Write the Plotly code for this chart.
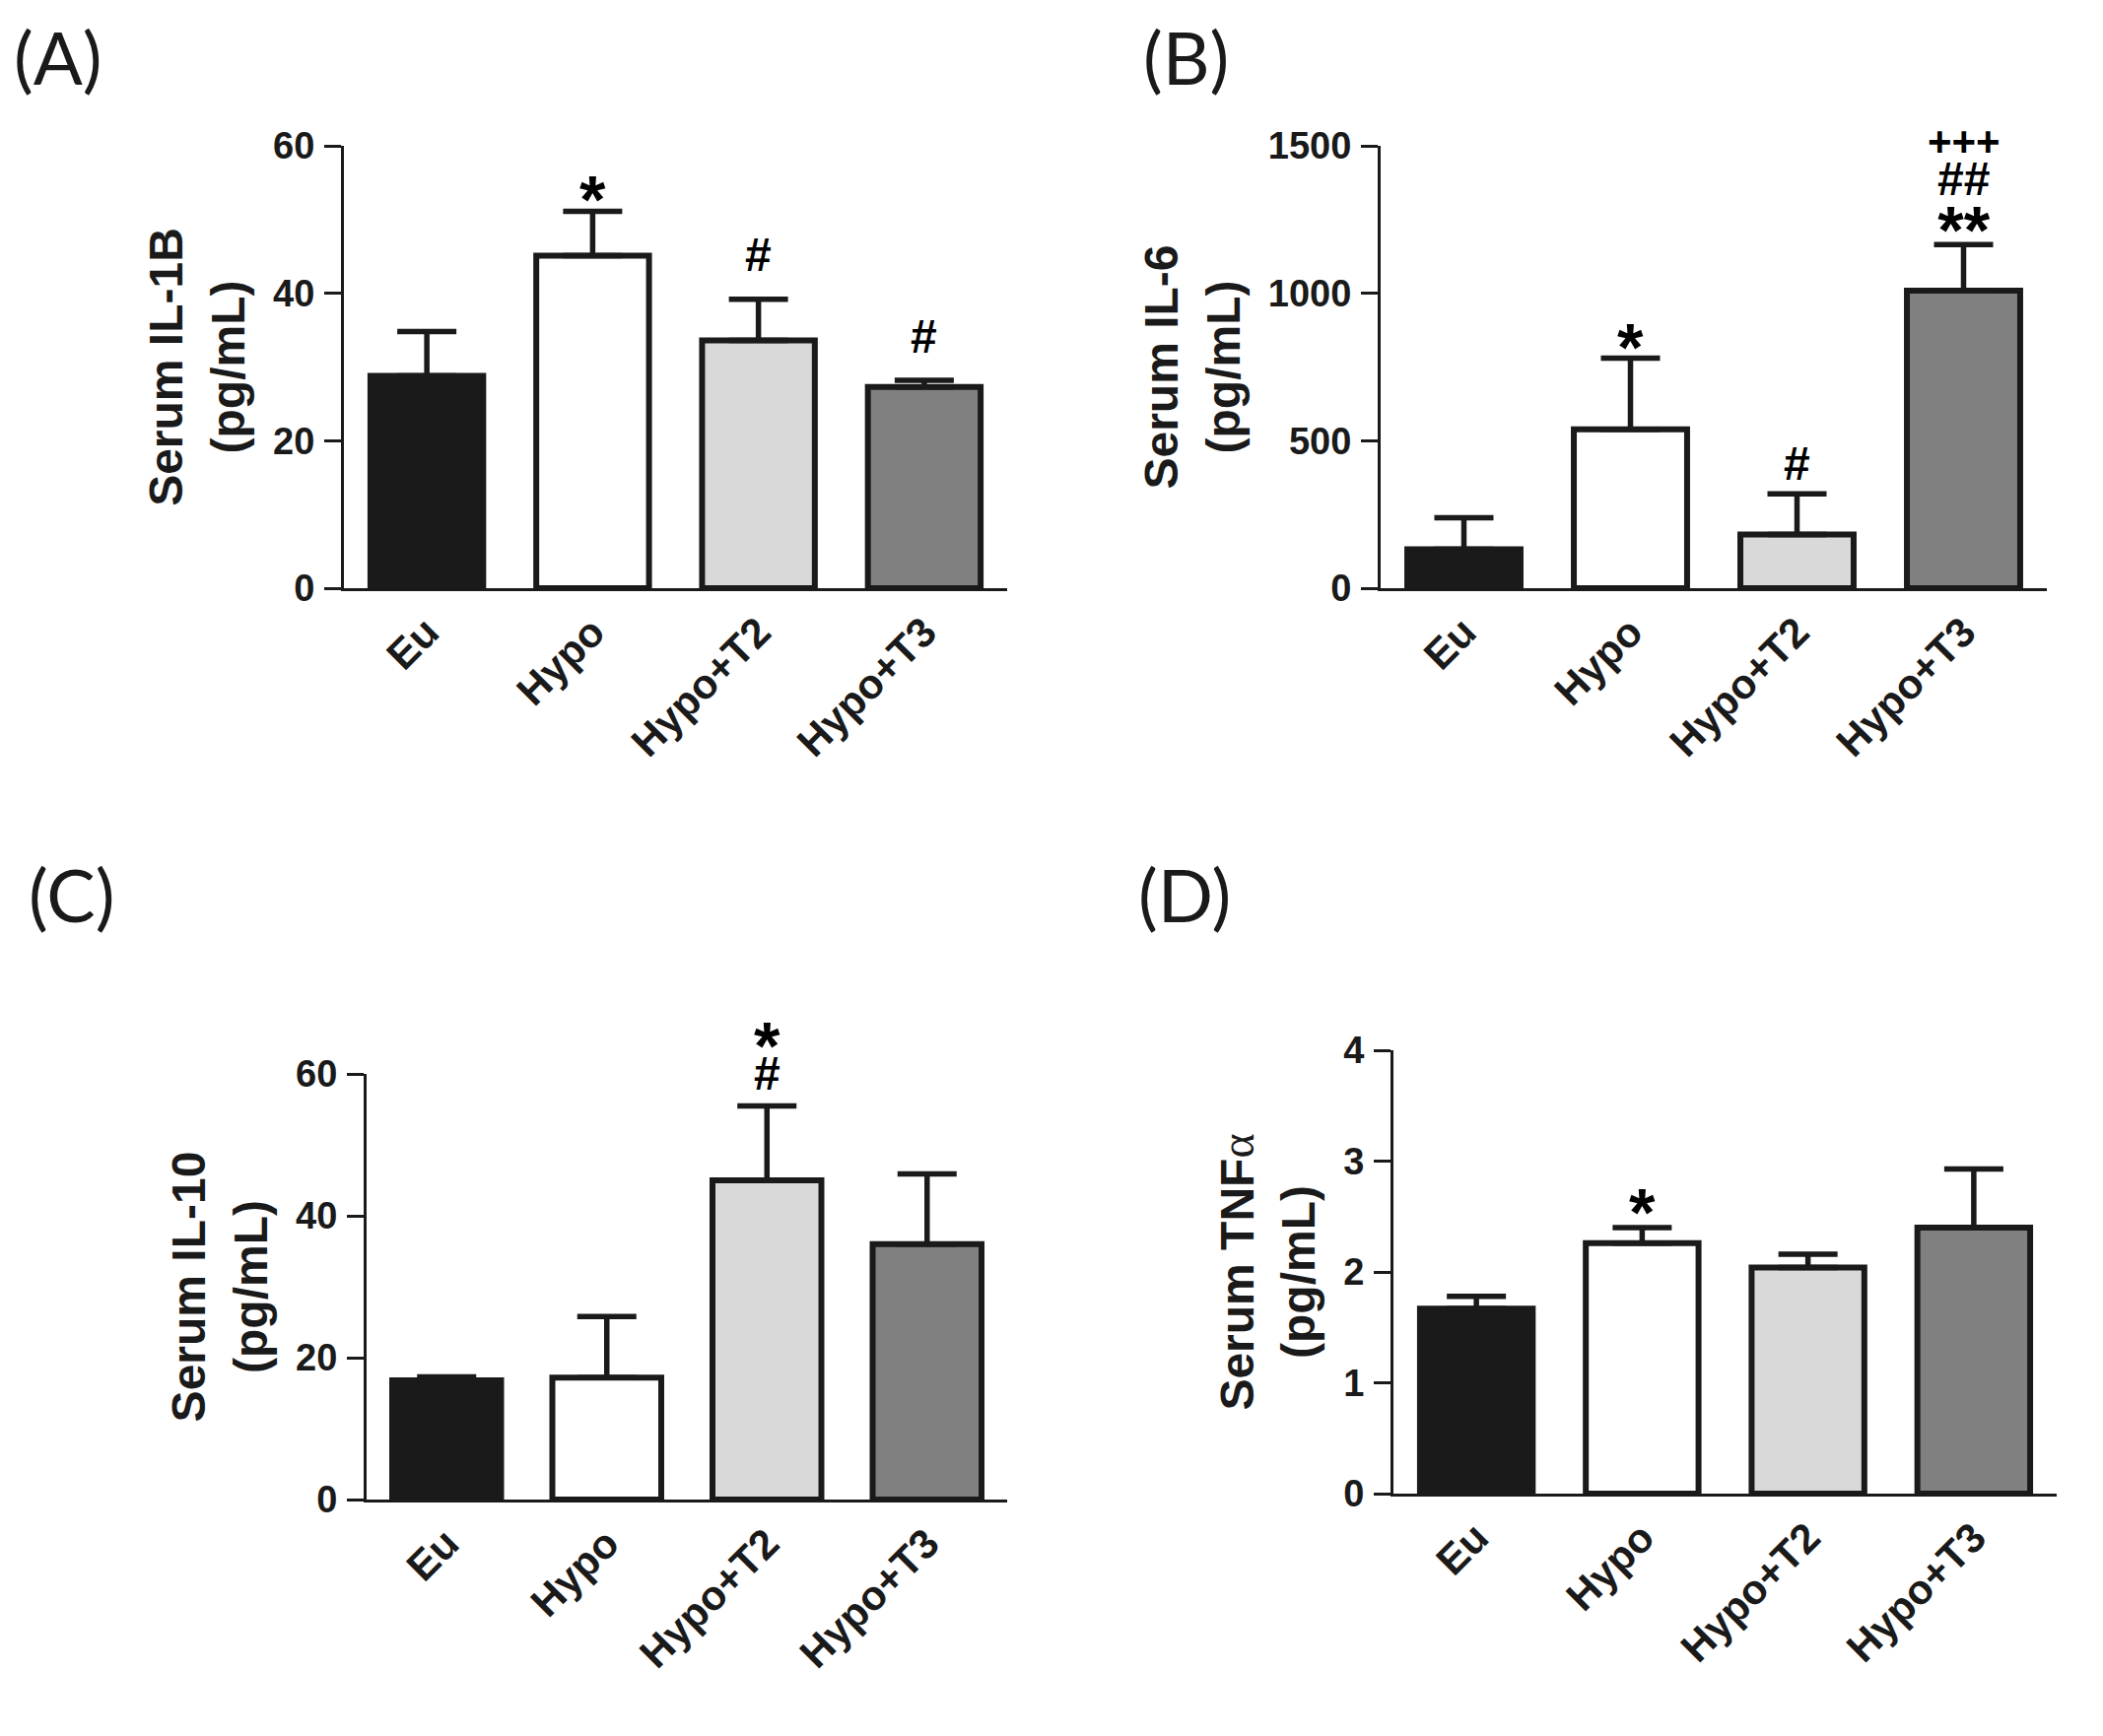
import plotly.graph_objects as go
from plotly.subplots import make_subplots

groups = ["Eu", "Hypo", "Hypo+T2", "Hypo+T3"]
bar_colors = ["#1a1a1a", "#ffffff", "#d9d9d9", "#808080"]

# mean and upper error (SEM)
il1b = [28.8, 45.1, 33.6, 27.3]
il1b_err = [6.0, 6.0, 5.6, 0.9]
il6 = [132, 539, 182, 1009]
il6_err = [107, 241, 138, 156]
il10 = [16.8, 17.2, 45.0, 36.0]
il10_err = [0.5, 8.6, 10.5, 9.9]
tnfa = [1.67, 2.26, 2.04, 2.40]
tnfa_err = [0.11, 0.14, 0.12, 0.53]

# significance marks: (panel, group index, lines from bottom to top, gap above cap, line size)
# empty lines only space the symbols apart
marks = [
    (1, 1, ["*"], 8, None),
    (1, 2, ["#"], 26, None),
    (1, 3, ["#"], 25, None),
    (2, 1, ["*"], 7, None),
    (2, 2, ["#"], 11, None),
    (2, 3, ["**", "", "", "##", "", "+++"], 10, 15.3),
    (3, 2, ["#", "*"], 13, 16.5),
    (4, 1, ["*"], 11, None),
]

panels = [
    ("(A)", il1b, il1b_err, "Serum IL-1B<br>(pg/mL)", [0, 60], 20),
    ("(B)", il6, il6_err, "Serum IL-6<br>(pg/mL)", [0, 1500], 500),
    ("(C)", il10, il10_err, "Serum IL-10<br>(pg/mL)", [0, 60], 20),
    ("(D)", tnfa, tnfa_err,
     "Serum TNF<span style='font-family:Liberation Serif;font-weight:normal'>α</span><br>(pg/mL)",
     [0, 4], 1),
]

W, H = 2134, 1762
OFF = 8  # page margin of the browser
# plot areas in pixels: x0, x1, ytop, ybottom
boxes = [
    (349, 1022, 148, 597),
    (1401, 2077, 148, 597),
    (372, 1022, 1090, 1522),
    (1414, 2087, 1066, 1516),
]
label_pos = [(59, 57), (1203, 57), (72, 907), (1202, 907)]

ink = "#1a1a1a"
sans = "Liberation Sans, Arial, sans-serif"
ytick_font = dict(family=sans, size=38, color=ink, weight="bold")
xtick_font = dict(family=sans, size=42, color=ink, weight="bold")

fig = make_subplots(rows=2, cols=2)

for i, (lab, vals, errs, ytitle, yrange, dtick) in enumerate(panels):
    r, c = i // 2 + 1, i % 2 + 1
    fig.add_trace(
        go.Bar(
            x=groups,
            y=vals,
            marker=dict(color=bar_colors, line=dict(color=ink, width=6)),
            error_y=dict(type="data", symmetric=False, array=errs,
                         arrayminus=[0] * len(errs), color=ink,
                         thickness=5.5, width=30),
            width=0.68,
            showlegend=False,
        ), row=r, col=c,
    )
    x0, x1, yt, yb = [v - OFF for v in boxes[i]]
    fig.update_xaxes(
        domain=[x0 / W, x1 / W], range=[-0.5, 3.5], automargin=False,
        showline=True, linewidth=3, linecolor=ink, ticks="",
        tickangle=-45, tickfont=xtick_font, ticklabelstandoff=0,
        showgrid=False, zeroline=False, row=r, col=c,
    )
    fig.update_yaxes(
        domain=[1 - yb / H, 1 - yt / H], range=yrange, dtick=dtick, automargin=False,
        showline=True, linewidth=3, linecolor=ink,
        ticks="outside", ticklen=17, tickwidth=3, tickcolor=ink,
        tickfont=ytick_font, ticklabelstandoff=2,
        title=dict(text=ytitle, font=dict(family=sans, size=48, color=ink, weight="bold"),
                   standoff=14),
        showgrid=False, zeroline=False, row=r, col=c,
    )
    fig.add_annotation(
        text=lab, x=(label_pos[i][0] - OFF) / W, y=1 - (label_pos[i][1] - OFF) / H,
        xref="paper", yref="paper", xanchor="center", yanchor="middle",
        showarrow=False,
        font=dict(family="Lato, Open Sans, sans-serif", size=74, color=ink),
    )

# font size and distance from text box bottom to glyph bottom, per symbol
sym_font = {"*": (68, 35), "#": (48, 9), "+": (42, 13)}
axis_names = ["", "2", "3", "4"]
for p, g, lines, gap, line_size in marks:
    vals, errs = panels[p - 1][1], panels[p - 1][2]
    size, base = sym_font[lines[0][0]]
    if line_size is None:
        text = lines[0]
    else:
        parts = []
        for s in reversed(lines):
            if s:
                parts.append("<span style='font-size:%dpx'>%s</span>" % (sym_font[s[0]][0], s))
            else:
                parts.append("")
        text = "<br>".join(parts)
        size = line_size
    fig.add_annotation(
        text=text, x=groups[g], y=vals[g] + errs[g],
        xref="x" + axis_names[p - 1], yref="y" + axis_names[p - 1],
        showarrow=False, yanchor="bottom", yshift=gap - base,
        font=dict(family=sans, size=size, color="#000000", weight="bold"),
    )

fig.update_layout(
    width=W, height=H,
    margin=dict(l=0, r=0, t=0, b=0),
    paper_bgcolor="white", plot_bgcolor="white",
)

fig.write_html("out.html")
